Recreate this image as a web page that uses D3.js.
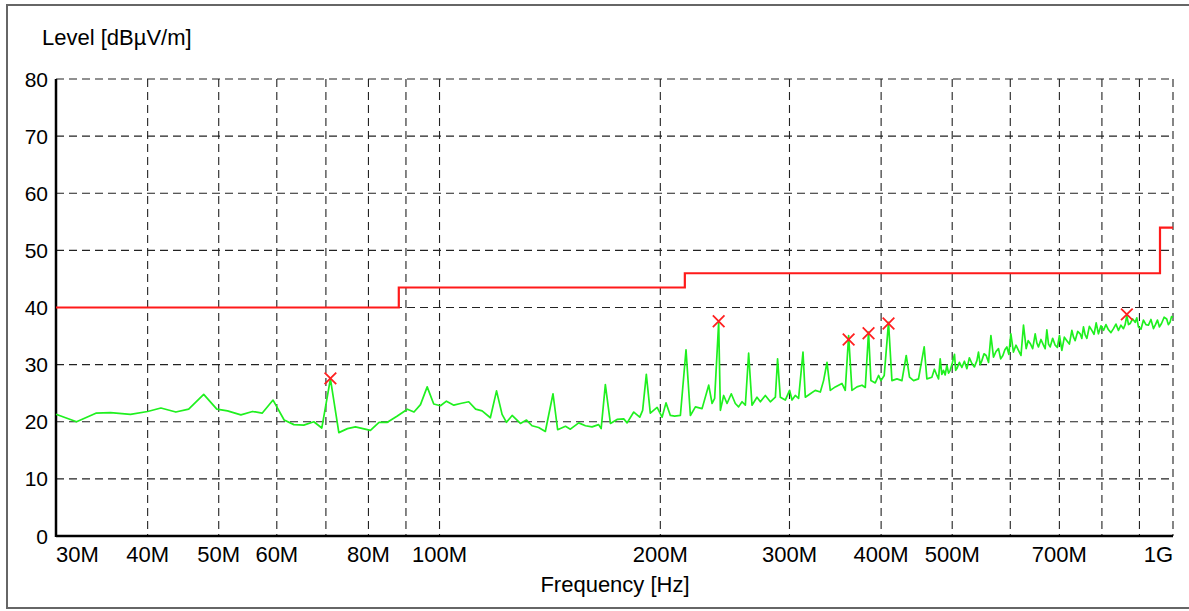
<!DOCTYPE html>
<html><head><meta charset="utf-8">
<script src="https://cdn.jsdelivr.net/npm/d3@7"></script>
<style>body{margin:0;background:#fff;}svg{display:block;}text{font-family:"Liberation Sans",Arial,sans-serif;fill:#000;}</style>
</head><body><svg id="c" width="1189" height="611"></svg>
<script>
// Frequency ticks (MHz) and labels
const xTicks = [30,40,50,60,70,80,90,100,200,300,400,500,600,700,800,900,1000];
const xTickLabels = ["30M","40M","50M","60M","","80M","","100M","200M","300M","400M","500M","","700M","","","1G"];
const yTicks = [0,10,20,30,40,50,60,70,80];

// Measured trace (frequency MHz, level dBµV/m)
const traceFreq = [30.0,32.0,34.0,35.6,37.9,40.0,41.7,43.7,45.5,47.7,49.7,51.4,53.6,55.6,57.3,59.3,61.4,63.3,65.3,67.4,69.1,71.0,72.9,74.9,76.8,80.5,82.7,84.9,87.6,90.4,92.3,94.2,96.2,98.2,100.3,102.2,104.6,106.8,109.6,112.0,114.3,117.3,119.6,121.7,123.4,125.6,128.9,131.4,133.7,136.5,139.4,142.8,144.9,148.5,150.8,154.8,158.1,161.4,164.8,166.1,168.3,171.0,174.6,178.3,180.2,184.0,187.5,189.2,191.4,193.8,198.0,201.1,203.6,206.4,209.2,213.0,216.8,219.8,223.3,228.0,232.8,235.3,237.2,240.2,241.5,244.0,246.6,249.9,253.1,255.7,258.5,261.2,263.9,266.7,270.9,273.8,278.1,282.5,287.0,289.0,291.5,296.1,300.1,302.4,305.5,308.7,313.0,315.3,320.3,325.3,330.5,333.9,337.5,341.0,346.4,353.7,357.4,361.2,365.0,370.8,376.7,380.6,384.5,387.4,392.7,396.8,399.8,403.9,409.4,413.8,420.4,427.0,432.8,437.3,442.9,449.8,457.9,461.8,
469.1,472.8,476.6,479.0,481.5,484.0,486.5,489.1,491.7,494.3,496.9,500.2,503.6,505.5,507.4,511.4,515.4,519.5,523.6,527.7,531.9,536.1,540.3,543.0,545.9,548.8,552.5,556.3,560.4,564.6,569.2,573.7,578.2,582.2,586.2,589.9,593.6,597.3,601.1,606.0,610.8,615.6,620.5,625.4,630.7,634.7,638.7,643.7,648.8,652.1,655.5,660.7,665.9,669.4,673.0,676.5,680.0,685.4,690.8,695.5,700.2,705.5,711.0,716.6,722.3,728.0,731.8,735.6,741.4,747.2,751.1,755.0,759.0,763.1,769.1,775.1,780.4,785.7,791.3,797.6,803.9,810.2,816.6,823.0,829.5,836.0,842.6,849.2,855.9,860.5,865.1,869.6,874.1,881.0,888.0,892.6,897.2,904.3,911.4,918.6,925.8,933.1,940.5,946.4,952.3,958.4,964.6,972.5,980.4,985.5,990.6,995.3,1000];
const traceLevel = [21.3,20.0,21.5,21.6,21.3,21.8,22.4,21.7,22.2,24.8,22.2,21.9,21.2,21.8,21.5,23.8,20.3,19.5,19.4,20.0,18.9,27.5,18.1,18.8,19.1,18.5,19.9,19.9,21.0,22.2,21.7,23.0,26.1,23.1,22.8,23.6,22.9,23.2,23.5,22.2,21.9,20.7,25.4,21.3,19.9,21.1,19.7,20.3,19.3,19.0,18.3,24.9,18.6,19.2,18.7,19.8,19.3,19.1,19.5,18.8,26.5,19.7,20.4,20.5,19.8,21.7,20.8,22.0,28.3,21.5,22.5,20.8,23.3,21.1,21.0,21.1,32.6,21.1,22.6,22.3,26.4,23.2,24.1,37.4,22.0,24.6,23.2,24.9,23.2,22.6,23.5,22.9,32.0,22.9,24.3,23.5,24.6,23.5,24.3,31.0,24.3,23.8,25.5,23.8,24.6,24.1,32.2,24.3,24.9,25.5,25.2,27.2,30.4,25.5,26.1,26.7,25.5,35.1,25.5,26.1,26.4,26.0,35.7,27.2,26.8,28.1,27.2,28.1,37.4,27.2,27.5,27.2,31.6,27.8,27.2,27.5,33.1,27.5,
27.8,29.2,28.1,27.5,31.0,28.3,29.0,28.2,29.9,28.5,29.0,30.3,31.8,29.0,29.3,30.4,29.5,30.6,29.3,31.2,30.2,29.6,30.7,32.2,30.0,30.7,31.9,31.6,30.4,35.1,31.3,32.3,32.8,31.0,31.6,32.6,33.1,31.8,35.4,32.2,33.4,32.5,31.6,36.9,32.8,34.2,33.7,32.8,35.4,33.8,33.1,34.4,33.4,32.8,36.1,33.6,33.1,34.6,33.4,33.0,35.1,32.5,34.8,34.2,33.6,36.0,34.8,34.2,35.8,35.4,34.6,36.6,35.2,34.6,36.7,36.0,35.3,37.3,35.4,36.8,36.0,37.0,36.1,35.6,36.3,37.1,36.0,36.9,36.3,37.0,38.6,37.0,37.2,38.0,37.4,38.2,36.6,36.2,37.8,37.0,36.9,37.9,36.3,37.0,37.8,36.6,37.2,38.3,38.0,37.0,37.4,38.4,38.3];

// Limit line (step changes)
const limitFreq = [30, 88, 216, 960, 1000];
const limitLevel = [40, 43.5, 46, 54, 54];

// Final peak markers
const markerFreq = [71.0, 240.2, 361.2, 384.5, 409.4, 865.1];
const markerLevel = [27.6, 37.6, 34.4, 35.5, 37.2, 38.8];

const svg = d3.select("#c");
const L = 56, R = 1173, T = 79, B = 536;
const x = d3.scaleLog().domain([30, 1000]).range([L, R]);
const y = d3.scaleLinear().domain([0, 80]).range([B, T]);

// outer frame
svg.append("rect").attr("x", 7).attr("y", 5).attr("width", 1200).attr("height", 603)
  .attr("fill", "none").attr("stroke", "#666").attr("stroke-width", 2);

// grid
const g = svg.append("g");
g.selectAll("line.v").data(xTicks.slice(1)).join("line")
  .attr("x1", d => x(d)).attr("x2", d => x(d)).attr("y1", T).attr("y2", B)
  .attr("stroke", "#222").attr("stroke-width", 1.1).attr("stroke-dasharray", "8,5");
g.selectAll("line.h").data(yTicks.slice(1)).join("line")
  .attr("x1", L).attr("x2", R).attr("y1", d => y(d)).attr("y2", d => y(d))
  .attr("stroke", "#222").attr("stroke-width", 1.1).attr("stroke-dasharray", "8,5");

// axes lines
svg.append("line").attr("x1", L).attr("x2", L).attr("y1", T).attr("y2", B + 1).attr("stroke", "#000").attr("stroke-width", 2.5);
svg.append("line").attr("x1", L).attr("x2", R).attr("y1", B).attr("y2", B).attr("stroke", "#000").attr("stroke-width", 2.5);

// tick labels
svg.selectAll("text.yl").data(yTicks).join("text")
  .attr("x", 48).attr("y", d => y(d)).attr("dy", "0.36em").attr("text-anchor", "end")
  .attr("font-size", 21).text(d => d);
svg.selectAll("text.xl").data(xTicks).join("text")
  .attr("x", d => x(d)).attr("y", 562)
  .attr("text-anchor", (d, i) => i === 0 ? "start" : (i === xTicks.length - 1 ? "end" : "middle"))
  .attr("font-size", 22).text((d, i) => xTickLabels[i]);

svg.append("text").attr("x", 42).attr("y", 45).attr("font-size", 22).text("Level [dBµV/m]");
svg.append("text").attr("x", 615).attr("y", 592).attr("text-anchor", "middle").attr("font-size", 22).text("Frequency [Hz]");

// trace
const tr = traceFreq.map((f, i) => [f, traceLevel[i]]);
svg.append("path").datum(tr)
  .attr("d", d3.line().x(d => x(d[0])).y(d => y(d[1])))
  .attr("fill", "none").attr("stroke", "#1ff01f").attr("stroke-width", 1.7).attr("stroke-linejoin", "round");

// limit
const lim = limitFreq.map((f, i) => [f, limitLevel[i]]);
svg.append("path").datum(lim)
  .attr("d", d3.line().x(d => x(d[0])).y(d => y(d[1])).curve(d3.curveStepAfter))
  .attr("fill", "none").attr("stroke", "#ff1a1a").attr("stroke-width", 2.2);

// markers
const mk = markerFreq.map((f, i) => [f, markerLevel[i]]);
svg.selectAll("path.mk").data(mk).join("path")
  .attr("transform", d => `translate(${x(d[0])},${y(d[1])})`)
  .attr("d", d3.symbol(d3.symbolX, 90)())
  .attr("fill", "none").attr("stroke", "#ff2020").attr("stroke-width", 1.8);
</script></body></html>
